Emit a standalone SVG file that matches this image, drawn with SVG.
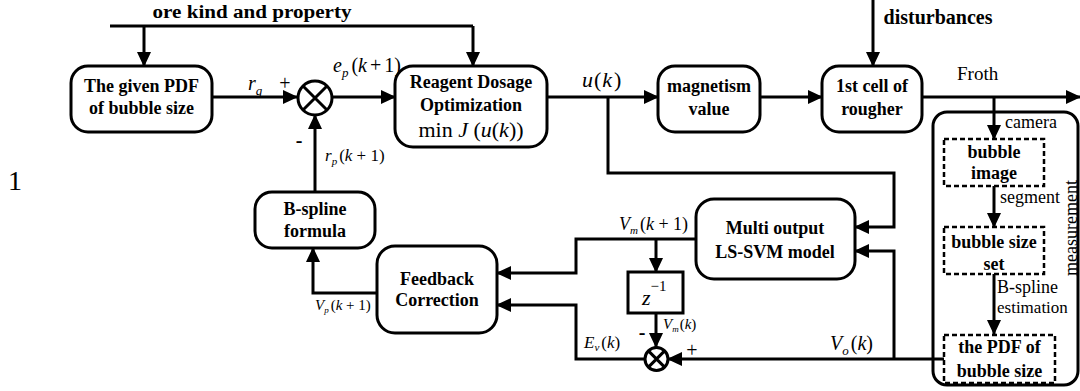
<svg xmlns="http://www.w3.org/2000/svg" width="1080" height="391" viewBox="0 0 1080 391" font-size="18">
  <defs>
    <marker id="ah" markerWidth="15" markerHeight="14" refX="14" refY="7" orient="auto" markerUnits="userSpaceOnUse">
      <path d="M0,0 L15,7 L0,14 z" fill="#000"/>
    </marker>
    <style>
      .box { fill: #fff; stroke: #000; stroke-width: 3; }
      .dash { fill: #fff; stroke: #000; stroke-width: 2.5; stroke-dasharray: 5 3; }
      .ln { fill: none; stroke: #000; stroke-width: 3; }
      .arr { fill: none; stroke: #000; stroke-width: 3; marker-end: url(#ah); }
      .b { font-family: "Liberation Serif", "Times New Roman", serif; font-weight: bold; text-anchor: middle; fill: #000; }
      .t { font-family: "Liberation Serif", "Times New Roman", serif; fill: #000; }
      .i { font-style: italic; }
    </style>
  </defs>

  <rect width="1080" height="391" fill="#fff"/>

  <!-- connectors -->
  <g id="connectors">
    <!-- ore kind and property feed -->
    <path class="ln" d="M110,26 H473"/>
    <path class="arr" d="M144,26 V66"/>
    <path class="arr" d="M473,26 V66"/>
    <!-- reference PDF into summing junction -->
    <path class="arr" d="M212,97 H297"/>
    <!-- error into optimizer -->
    <path class="arr" d="M332,97 H395"/>
    <!-- B-spline output up into junction -->
    <path class="arr" d="M315,192 V115"/>
    <!-- u(k) -->
    <path class="arr" d="M547,97 H658"/>
    <path class="arr" d="M608,97 V173 H894 V227 H855"/>
    <path class="arr" d="M760,97 H822"/>
    <!-- disturbances -->
    <path class="arr" d="M873,0 V66"/>
    <!-- froth -->
    <path class="arr" d="M922,97 H1080"/>
    <path class="arr" d="M994,97 V139"/>
    <path class="arr" d="M994,186 V227"/>
    <path class="arr" d="M994,274 V334"/>
    <!-- measured PDF V_o(k) -->
    <path class="arr" d="M944,359 H668"/>
    <path class="arr" d="M894,359 V251 H855"/>
    <!-- model output V_m(k+1) -->
    <path class="arr" d="M696,239 H576 V273 H497"/>
    <path class="arr" d="M656,239 V272"/>
    <path class="arr" d="M656,313 V347"/>
    <!-- error E_v(k) -->
    <path class="arr" d="M645,359 H576 V305 H497"/>
    <!-- corrected V_p(k+1) to B-spline formula -->
    <path class="arr" d="M377,293 H313 V248"/>
  </g>

  <!-- summing junctions -->
  <g id="sum1">
    <circle cx="315" cy="98" r="17" fill="#fff" stroke="#000" stroke-width="3"/>
    <path class="ln" d="M303,86 L327,110 M327,86 L303,110"/>
  </g>
  <g id="sum2">
    <circle cx="656.5" cy="359" r="11.5" fill="#fff" stroke="#000" stroke-width="3"/>
    <path class="ln" d="M648.4,350.9 L664.6,367.1 M664.6,350.9 L648.4,367.1"/>
  </g>

  <!-- nodes -->
  <g id="given-pdf">
    <rect class="box" x="71" y="66" width="141" height="66" rx="17"/>
    <text class="b" x="141.5" y="92">The given PDF</text>
    <text class="b" x="141.5" y="114">of bubble size</text>
  </g>

  <g id="reagent-opt">
    <rect class="box" x="395" y="66" width="152" height="81" rx="18"/>
    <text class="b" x="471" y="88">Reagent Dosage</text>
    <text class="b" x="471" y="111">Optimization</text>
    <text class="t" x="471" y="137" font-size="22" text-anchor="middle">min <tspan class="i">J</tspan> (<tspan class="i">u</tspan>(<tspan class="i">k</tspan>))</text>
  </g>

  <g id="magnetism">
    <rect class="box" x="658" y="66" width="102" height="66" rx="17"/>
    <text class="b" x="709" y="92">magnetism</text>
    <text class="b" x="709" y="115">value</text>
  </g>

  <g id="rougher">
    <rect class="box" x="822" y="66" width="100" height="66" rx="17"/>
    <text class="b" x="872" y="92">1st cell of</text>
    <text class="b" x="872" y="115">rougher</text>
  </g>

  <g id="bspline-formula">
    <rect class="box" x="255" y="192" width="120" height="56" rx="17"/>
    <text class="b" x="315" y="215">B-spline</text>
    <text class="b" x="315" y="237">formula</text>
  </g>

  <g id="feedback">
    <rect class="box" x="377" y="246" width="120" height="87" rx="18"/>
    <text class="b" x="437" y="285">Feedback</text>
    <text class="b" x="437" y="306">Correction</text>
  </g>

  <g id="lssvm">
    <rect class="box" x="696" y="199" width="159" height="80" rx="18"/>
    <text class="b" x="775" y="234">Multi output</text>
    <text class="b" x="775" y="258">LS-SVM model</text>
  </g>

  <g id="delay">
    <rect x="628" y="272" width="55" height="41" fill="#fff" stroke="#000" stroke-width="3"/>
    <text class="t" x="642" y="305" font-size="22"><tspan class="i">z</tspan><tspan font-size="15" dy="-14">−1</tspan></text>
  </g>

  <g id="measurement">
    <rect x="933" y="112" width="145" height="273" rx="14" fill="none" stroke="#000" stroke-width="3"/>
    <text class="t" transform="translate(1077,228) rotate(-90)" text-anchor="middle">measurement</text>
  </g>

  <g id="bubble-image">
    <rect class="dash" x="944" y="139" width="100" height="47"/>
    <text class="b" x="994" y="158">bubble</text>
    <text class="b" x="994" y="179">image</text>
  </g>

  <g id="bubble-size-set">
    <rect class="dash" x="944" y="227" width="100" height="47"/>
    <text class="b" x="994" y="248">bubble size</text>
    <text class="b" x="994" y="270">set</text>
  </g>

  <g id="pdf-of-bubble-size">
    <rect class="dash" x="944" y="335" width="111" height="48"/>
    <text class="b" x="999.5" y="353">the PDF of</text>
    <text class="b" x="999.5" y="377">bubble size</text>
  </g>

  <!-- labels -->
  <g id="labels">
    <text class="b" x="252" y="18" font-size="18" textLength="199" lengthAdjust="spacingAndGlyphs">ore kind and property</text>
    <text class="b" x="938" y="24" font-size="20">disturbances</text>
    <text class="t" x="8" y="190" font-size="28">1</text>

    <text class="t" x="248" y="90" font-size="20"><tspan class="i">r</tspan><tspan class="i" font-size="13" dy="5">g</tspan></text>
    <text class="t" x="285" y="90" font-size="20" text-anchor="middle">+</text>
    <text class="b" x="299" y="147" font-size="20">-</text>
    <text class="t" x="333" y="72" font-size="20"><tspan class="i">e</tspan><tspan class="i" font-size="13" dy="5">p</tspan><tspan dy="-5" dx="3">(</tspan><tspan class="i">k</tspan><tspan dx="3">+</tspan><tspan dx="3">1)</tspan></text>
    <text class="t" x="325" y="161" font-size="17"><tspan class="i">r</tspan><tspan class="i" font-size="11" dy="4">p</tspan><tspan dy="-4" dx="2">(</tspan><tspan class="i">k</tspan> + 1)</text>
    <text class="t" x="582" y="87" font-size="22"><tspan class="i">u</tspan><tspan dx="1">(</tspan><tspan class="i" dx="1">k</tspan><tspan dx="2">)</tspan></text>

    <text class="t" x="957" y="80" font-size="19">Froth</text>
    <text class="t" x="1005" y="128">camera</text>
    <text class="t" x="1000" y="203">segment</text>
    <text class="t" x="997" y="293">B-spline</text>
    <text class="t" x="997" y="313" font-size="17">estimation</text>

    <text class="t" x="619" y="230"><tspan class="i">V</tspan><tspan class="i" font-size="11" dy="4">m</tspan><tspan dy="-4" dx="2">(</tspan><tspan class="i">k</tspan> + 1)</text>
    <text class="t" x="315" y="310" font-size="15"><tspan class="i">V</tspan><tspan class="i" font-size="9" dy="3">p</tspan><tspan dy="-3" dx="2">(</tspan><tspan class="i">k</tspan> + 1)</text>
    <text class="t" x="663" y="329" font-size="15"><tspan class="i">V</tspan><tspan class="i" font-size="9" dy="3">m</tspan><tspan dy="-3" dx="1">(</tspan><tspan class="i">k</tspan>)</text>
    <text class="b" x="642" y="339" font-size="20">-</text>
    <text class="t" x="584" y="348" font-size="17"><tspan class="i">E</tspan><tspan class="i" font-size="11" dy="3">v</tspan><tspan dy="-3" dx="2">(</tspan><tspan class="i">k</tspan>)</text>
    <text class="t" x="692" y="357" font-size="20" text-anchor="middle">+</text>
    <text class="t" x="830" y="350" font-size="20"><tspan class="i">V</tspan><tspan class="i" font-size="13" dy="5">o</tspan><tspan dy="-5" dx="2">(</tspan><tspan class="i">k</tspan>)</text>
  </g>
</svg>
